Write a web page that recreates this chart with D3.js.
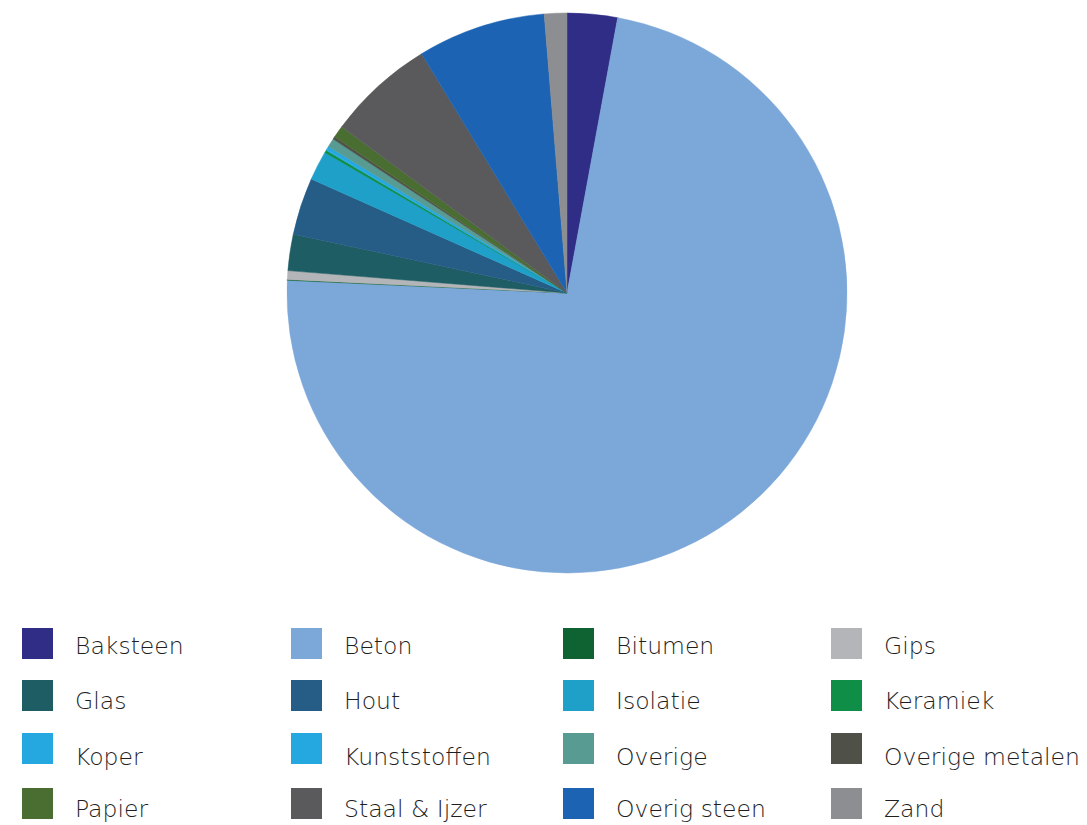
<!DOCTYPE html>
<html><head><meta charset="utf-8">
<script src="https://cdn.jsdelivr.net/npm/d3@7"></script>
<style>
html,body{margin:0;padding:0;background:#fff;}
svg{display:block;}
</style></head>
<body>
<svg id="chart" width="1087" height="825"></svg>
<script>
const categories = ["Baksteen","Beton","Bitumen","Gips","Glas","Hout","Isolatie","Keramiek","Koper","Kunststoffen","Overige","Overige metalen","Papier","Staal & Ijzer","Overig steen","Zand"];
const values = [2.9, 72.9, 0.05, 0.5, 2.1, 3.3, 1.7, 0.15, 0.05, 0.2, 0.5, 0.15, 0.7, 6.2, 7.4, 1.3];
const colors = ["#2f2d86","#7ba7d9","#0f6332","#b4b5b9","#1e5d63","#265d87","#1fa0c9","#0e8e47","#25a8e0","#25a8e0","#579b93","#4f5148","#4a6d32","#5a5a5c","#1c64b3","#8d8e92"];

const svg = d3.select("#chart");
const cx = 567, cy = 293, r = 280;
const data = categories.map((c,i)=>({name:c, value:values[i], color:colors[i]}));
const pie = d3.pie().value(d=>d.value).sort(null).startAngle(0).endAngle(2*Math.PI);
const arc = d3.arc().innerRadius(0).outerRadius(r);
const g = svg.append("g").attr("transform",`translate(${cx},${cy})`);
g.selectAll("path").data(pie(data)).join("path")
  .attr("d", arc)
  .attr("fill", d=>d.data.color)
  .attr("stroke", d=>d.data.color)
  .attr("stroke-width", 0.5);

// legend
const colX = d3.scaleOrdinal().domain([0,1,2,3]).range([22, 291, 563, 831]);
const rowY = d3.scaleOrdinal().domain([0,1,2,3]).range([628, 680, 733, 788]);
const textDy = d3.scaleOrdinal().domain([0,1,2,3]).range([26, 29, 32, 29]);
const leg = svg.append("g");
const items = leg.selectAll("g").data(data).join("g")
  .attr("transform",(d,i)=>`translate(${colX(i%4)},${rowY(Math.floor(i/4))})`);
items.append("rect").attr("width",31).attr("height",31).attr("fill",d=>d.color);
items.append("text").attr("x",53).attr("y",(d,i)=>textDy(Math.floor(i/4)))
  .attr("font-family","'DejaVu Sans', sans-serif")
  .attr("font-weight",200)
  .attr("font-size",23.5)
  .attr("fill","#1e1e1e")
  .text(d=>d.name);
</script>
</body></html>
